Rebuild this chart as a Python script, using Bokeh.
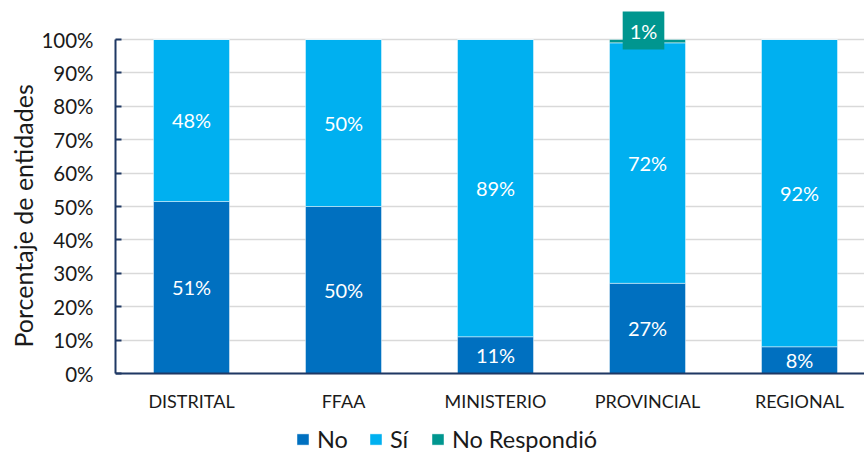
import math
from bokeh.plotting import figure
from bokeh.models import (ColumnDataSource, Range1d, FixedTicker, PrintfTickFormatter,
                          Legend, LegendItem, Title, Span)
from bokeh.core.properties import value
from bokeh.embed import file_html
from bokeh.resources import INLINE

categories = ["DISTRITAL", "FFAA", "MINISTERIO", "PROVINCIAL", "REGIONAL"]
no_vals = [51.5, 50, 11, 27, 8]
si_vals = [48.5, 50, 89, 72, 92]
nr_vals = [0, 0, 0, 1, 0]
series_names = ["No", "Sí", "No Respondió"]
colors = ["#0070C0", "#00B0F0", "#00968F"]
y_ticks = [0, 10, 20, 30, 40, 50, 60, 70, 80, 90, 100]

FONT = "Lato"
NAVY = "#1F3864"
TXT = "#1a1a1a"
px_per_unit_y = 3.34
px_per_cat = 152

W, H = 864, 454
left_b, top_b = 115, 9
zero_px = 373          # screen row of the 0% baseline
frame_w = W - left_b
y_top = (zero_px - top_b) / px_per_unit_y
y_bot = -(H - zero_px) / px_per_unit_y

p = figure(width=W, height=H, output_backend="svg", toolbar_location=None,
           x_range=Range1d(-0.5, -0.5 + frame_w / px_per_cat),
           y_range=Range1d(y_bot, y_top), x_axis_location=None,
           min_border_left=left_b, min_border_right=0,
           min_border_top=top_b, min_border_bottom=0)
p.outline_line_color = None
p.background_fill_color = "white"
p.border_fill_color = "white"

xs = list(range(len(categories)))
series = [no_vals, si_vals, nr_vals]
bottom = [0.0] * len(categories)
renderers = []
for name, vals, col in zip(series_names, series, colors):
    top = [b + v for b, v in zip(bottom, vals)]
    src = ColumnDataSource(dict(x=xs, bottom=bottom, top=top))
    r = p.vbar(x="x", bottom="bottom", top="top", width=0.5, source=src,
               fill_color=col, line_color="white", line_alpha=0.45, line_width=1)
    renderers.append(r)
    lx = [x for x, v in zip(xs, vals) if v > 0]
    lt = [f"{math.floor(v)}%" for v in vals if v > 0]
    if name != "No Respondió":
        ly = [b + v / 2 for b, v in zip(bottom, vals) if v > 0]
        p.text(x=lx, y=ly, text=lt, text_color="white", text_align="center",
               text_baseline="middle", text_font=value(FONT), text_font_size="20px")
    else:
        ly = [b + v for b, v in zip(bottom, vals) if v > 0]
        p.text(x=lx, y=ly, text=lt, text_color="white", text_align="center",
               text_baseline="middle", text_font=value(FONT), text_font_size="20px",
               x_offset=-4, y_offset=-9, background_fill_color=col, padding=7)
    bottom = top

# baseline (category axis) and category labels
p.add_layout(Span(location=0, dimension="width", line_color=NAVY, line_width=2))
p.text(x=xs, y=[0] * len(xs), text=categories, text_color=TXT, text_align="center",
       text_baseline="middle", text_font=value(FONT), text_font_size="18px", y_offset=27)

# y axis
p.yaxis.ticker = FixedTicker(ticks=y_ticks)
p.yaxis.formatter = PrintfTickFormatter(format="%d%%")
p.yaxis.bounds = (0, 100)
p.yaxis.axis_line_color = NAVY
p.yaxis.axis_line_width = 2
p.yaxis.major_tick_line_color = NAVY
p.yaxis.major_tick_line_width = 2
p.yaxis.major_tick_in = 6
p.yaxis.major_tick_out = 0
p.yaxis.minor_tick_line_color = None
p.yaxis.major_label_text_font = FONT
p.yaxis.major_label_text_font_size = "20.5px"
p.yaxis.major_label_text_color = TXT
p.yaxis.major_label_standoff = 22

ylab = Title(text="Porcentaje de entidades", align="left", offset=107, standoff=2,
             text_font=FONT, text_font_size="25px", text_font_style="normal",
             text_color=TXT)
p.add_layout(ylab, "left")

p.xgrid.grid_line_color = None
p.ygrid.ticker = FixedTicker(ticks=y_ticks)
p.ygrid.grid_line_color = "#D9D9D9"
p.ygrid.grid_line_width = 1.5

legend = Legend(items=[LegendItem(label=n, renderers=[r]) for n, r in zip(series_names, renderers)],
                orientation="horizontal", location=(180, 1))
legend.label_text_font = FONT
legend.label_text_font_size = "23.5px"
legend.label_text_color = TXT
legend.glyph_width = 15
legend.glyph_height = 14
legend.label_standoff = 7
legend.spacing = 20
legend.padding = 0
legend.margin = 0
legend.border_line_color = None
legend.background_fill_alpha = 0
p.add_layout(legend, "center")

open("out.html", "w").write(file_html(p, INLINE))
